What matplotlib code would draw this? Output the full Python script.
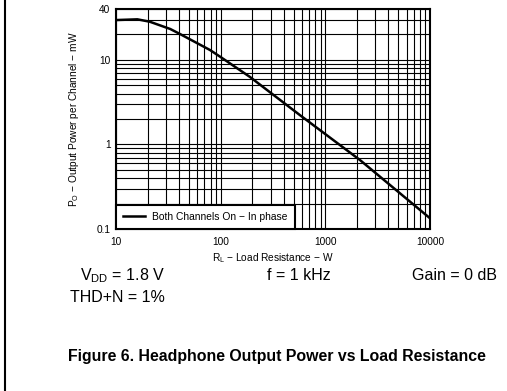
import numpy as np
import matplotlib
matplotlib.use('Agg')
import matplotlib.pyplot as plt
from matplotlib.lines import Line2D
from matplotlib.ticker import FixedLocator, NullFormatter, LogLocator

plt.rcParams['font.family'] = ['Liberation Sans', 'DejaVu Sans']
plt.rcParams['mathtext.fontset'] = 'custom'
plt.rcParams['mathtext.rm'] = 'Liberation Sans'
plt.rcParams['mathtext.it'] = 'Liberation Sans'

# load resistance (ohm) vs output power per channel (mW)
load_res = [10, 16, 21, 33, 41, 79, 100, 190, 240, 570, 2140, 10000]
out_power = [29.6, 30.2, 28.3, 23.2, 20.2, 13.1, 10.8, 6.3, 5.05, 2.23, 0.655, 0.134]

x_ticks = [10, 100, 1000, 10000]
x_tick_labels = ['10', '100', '1000', '10000']
y_ticks = [0.1, 1, 10, 40]
y_tick_labels = ['0.1', '1', '10', '40']

fig = plt.figure(figsize=(5.07, 3.91), dpi=100)
ax = fig.add_axes([116/507, 1 - 229/391, 314/507, 220/391])

ax.plot(load_res, out_power, color='black', lw=1.8, label='Both Channels On − In phase', zorder=3)
ax.set_xscale('log')
ax.set_yscale('log')
ax.set_xlim(10, 10000)
ax.set_ylim(0.1, 40)

ax.xaxis.set_major_locator(FixedLocator(x_ticks))
ax.set_xticklabels(x_tick_labels)
ax.xaxis.set_minor_locator(LogLocator(base=10, subs=np.arange(2, 10)))
ax.xaxis.set_minor_formatter(NullFormatter())
ax.yaxis.set_major_locator(FixedLocator(y_ticks))
ax.set_yticklabels(y_tick_labels)
ax.yaxis.set_minor_locator(LogLocator(base=10, subs=np.arange(2, 10)))
ax.yaxis.set_minor_formatter(NullFormatter())

ax.grid(True, which='both', color='black', lw=0.8)
ax.tick_params(which='both', length=0, labelsize=7.3)
ax.tick_params(axis='x', pad=6)
ax.tick_params(axis='y', pad=4)
for s in ax.spines.values():
    s.set_linewidth(1.5)

ax.set_xlabel(r'R$_\mathrm{L}$ − Load Resistance − W', fontsize=7.3, labelpad=3)
ax.set_ylabel(r'P$_\mathrm{O}$ − Output Power per Channel − mW', fontsize=7.3, labelpad=11)

leg = ax.legend(loc='lower left', borderaxespad=0, fancybox=False, framealpha=1,
                edgecolor='black', fontsize=7.4, handlelength=2.1, handletextpad=0.75,
                borderpad=0.7)
leg.get_frame().set_linewidth(1.5)
leg.set_zorder(5)

fig.text(165/507, 1 - 276/391, r'V$_\mathrm{DD}$ = 1.8 V', fontsize=11.5, ha='right', va='center')
fig.text(165/507, 1 - 298/391, 'THD+N = 1%', fontsize=11.5, ha='right', va='center')
fig.text(299/507, 1 - 276/391, 'f = 1 kHz', fontsize=11.5, ha='center', va='center')
fig.text(497/507, 1 - 276/391, 'Gain = 0 dB', fontsize=11.5, ha='right', va='center')
fig.text(277/507, 1 - 356/391, 'Figure 6. Headphone Output Power vs Load Resistance',
         fontsize=11.4, fontweight='bold', ha='center', va='center')

fig.add_artist(Line2D([4.5/507, 4.5/507], [0, 1], color='black', lw=1.5))

fig.savefig('out.png', dpi=100)
